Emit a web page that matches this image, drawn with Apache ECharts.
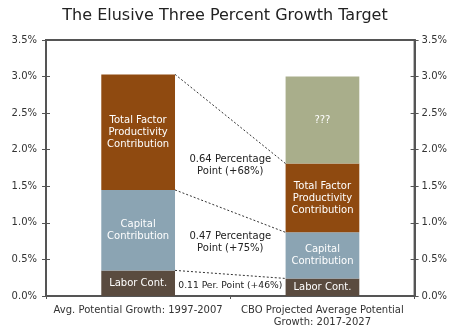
<!DOCTYPE html>
<html><head><meta charset="utf-8">
<script src="https://cdn.jsdelivr.net/npm/echarts@6/dist/echarts.min.js"></script>
<style>html,body{margin:0;padding:0;background:#fff}#c{width:450px;height:328px}</style>
</head><body><div id="c"></div>
<script>
const titleText = 'The Elusive Three Percent Growth Target';
const categories = ['Avg. Potential Growth: 1997-2007', 'CBO Projected Average Potential\nGrowth: 2017-2027'];
const laborVals = [0.35, 0.24];
const capitalVals = [1.10, 0.63];
const tfpVals = [1.58, 0.94];
const unknownVals = [null, 1.19];
const segmentNames = ['Labor Cont.', 'Capital\nContribution', 'Total Factor\nProductivity\nContribution', '???'];
const changeLabels = ['0.11 Per. Point (+46%)', '0.47 Percentage\nPoint (+75%)', '0.64 Percentage\nPoint (+68%)'];
const yTicks = [0, 0.5, 1.0, 1.5, 2.0, 2.5, 3.0, 3.5];

const colors = ['#5a4b3f', '#8ba4b3', '#8f4a10', '#a9ae8b'];
const FONT = 'DejaVu Sans';
const BARW = 0.40;
const annFontSizes = [9.2, 10, 10];

// cumulative tops for connectors
const seg = [laborVals, capitalVals, tfpVals];
const tops = [0, 1].map(c => { let s = 0; return seg.map(a => (s += a[c])); });
const connData = seg.map((_, i) => [0, tops[0][i], tops[1][i]]);
const annData = seg.map((_, i) => {
  const up = (tops[0][i] + tops[1][i]) / 2;
  const lo = i === 0 ? 0 : (tops[0][i - 1] + tops[1][i - 1]) / 2;
  return [0, (up + lo) / 2, i];
});

const chart = echarts.init(document.getElementById('c'));
const yMin = yTicks[0], yMax = yTicks[yTicks.length - 1], yInt = yTicks[1] - yTicks[0];
const axisColor = '#555';
function yAx(pos, labels, inside) {
  return {
    type: 'value', position: pos, min: yMin, max: yMax, interval: yInt,
    axisLine: { show: labels, lineStyle: { color: axisColor, width: 2 } },
    axisTick: { show: true, inside: inside, length: 4, lineStyle: { color: axisColor, width: 1 } },
    axisLabel: { show: labels, margin: pos === 'left' ? 9 : 7, color: '#333', fontFamily: FONT, fontSize: 10,
      formatter: v => v.toFixed(1) + '%' },
    splitLine: { show: false }
  };
}
function barLabel(txt) {
  return { show: true, position: 'inside', formatter: txt, color: '#fff', fontFamily: FONT, fontSize: 10, lineHeight: 12 };
}
const names = ['Labor', 'Capital', 'TFP', 'Unknown'];
const vals = [laborVals, capitalVals, tfpVals, unknownVals];
const barSeries = vals.map((v, i) => ({
  name: names[i], type: 'bar', stack: 'g', barWidth: (BARW * 100) + '%',
  data: v, itemStyle: { color: colors[i] }, label: barLabel(segmentNames[i]), silent: true
}));

chart.setOption({
  animation: false,
  title: { text: titleText, left: 'center', top: 3, textStyle: { fontFamily: 'DejaVu Sans', fontSize: 16, fontWeight: 'normal', color: '#222' } },
  grid: { left: 46, right: 35, top: 40, bottom: 31, show: true, borderColor: axisColor, borderWidth: 2 },
  xAxis: [
    { type: 'category', data: categories, axisLine: { lineStyle: { color: axisColor, width: 2 } },
      axisTick: { show: true, length: 3, lineStyle: { color: axisColor } },
      axisLabel: { interval: 0, color: '#333', fontFamily: FONT, fontSize: 10, lineHeight: 12, margin: 8 } },
    { type: 'category', data: categories, position: 'bottom', axisLine: { show: false },
      axisTick: { show: true, inside: true, length: 3, lineStyle: { color: axisColor } }, axisLabel: { show: false } }
  ],
  yAxis: [yAx('left', true, false), yAx('right', true, false), yAx('left', false, true), yAx('right', false, true)],
  series: barSeries.concat([
    { type: 'custom', data: connData, encode: { x: 0, y: 1 }, silent: true, z: 5,
      renderItem: (params, api) => {
        const p0 = api.coord([0, api.value(1)]);
        const p1 = api.coord([1, api.value(2)]);
        const half = api.size([1, 0])[0] * BARW / 2;
        return { type: 'line', shape: { x1: p0[0] + half, y1: p0[1], x2: p1[0] - half, y2: p1[1] },
          style: { stroke: '#333', lineWidth: 1, lineDash: [2, 2] } };
      } },
    { type: 'custom', data: annData, encode: { x: 0, y: 1 }, silent: true, z: 6,
      renderItem: (params, api) => {
        const i = api.value(2);
        const p0 = api.coord([0, api.value(1)]);
        const p1 = api.coord([1, api.value(1)]);
        return { type: 'text', x: (p0[0] + p1[0]) / 2, y: p0[1],
          style: { text: changeLabels[i], fill: '#222', font: annFontSizes[i] + 'px "' + FONT + '"', align: 'center', verticalAlign: 'middle', lineHeight: 12 } };
      } }
  ])
});
</script></body></html>
